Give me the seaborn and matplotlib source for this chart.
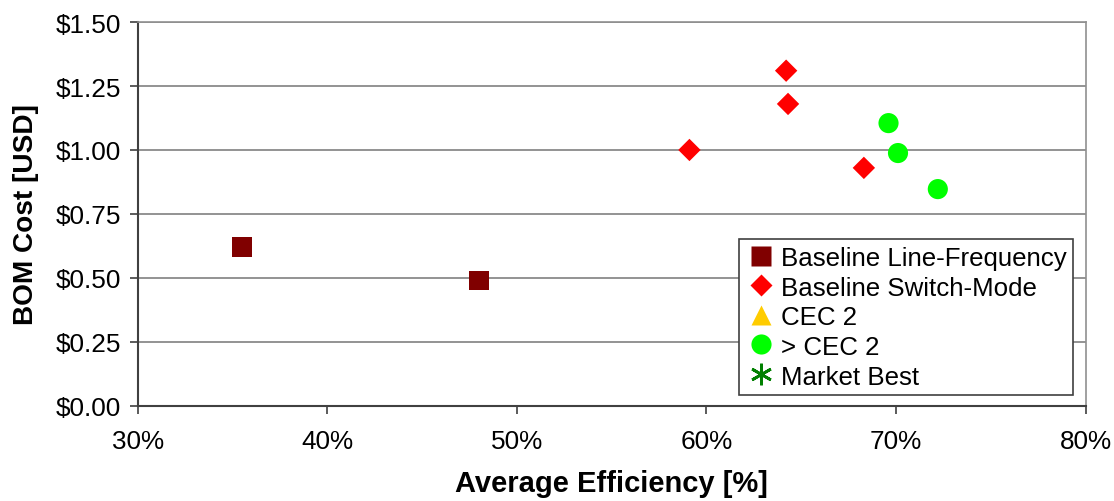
import matplotlib
matplotlib.use("Agg")
import matplotlib.pyplot as plt
from matplotlib.lines import Line2D
from matplotlib.ticker import FuncFormatter
import seaborn as sns
import pandas as pd

# ---- data ----
series_names = ["Baseline Line-Frequency", "Baseline Switch-Mode", "CEC 2", "> CEC 2", "Market Best"]
lf_eff = [35.5, 48.0]
lf_cost = [0.62, 0.49]
sm_eff = [59.1, 64.2, 64.3, 68.3]
sm_cost = [1.00, 1.31, 1.18, 0.93]
cec2_eff = []
cec2_cost = []
gt_eff = [69.6, 70.1, 72.2]
gt_cost = [1.105, 0.988, 0.847]
mb_eff = []
mb_cost = []
x_ticks = [30, 40, 50, 60, 70, 80]
y_ticks = [0.0, 0.25, 0.5, 0.75, 1.0, 1.25, 1.5]

sns.set_theme(style="white")
plt.rcParams["font.family"] = ["Liberation Sans", "DejaVu Sans"]
plt.rcParams["text.color"] = "black"
plt.rcParams["axes.labelcolor"] = "black"

fig = plt.figure(figsize=(11.14, 5.02), dpi=100)
ax = fig.add_axes([0.1236, 0.1898, 0.8510, 0.7642])

colors = ["#800000", "#FF0000", "#FFCC00", "#00FF00", "#008000"]
markers = ["s", "D", "^", "o", (6, 2, 0)]
sizes = [200, 130, 200, 210, 200]
xs = [lf_eff, sm_eff, cec2_eff, gt_eff, mb_eff]
ys = [lf_cost, sm_cost, cec2_cost, gt_cost, mb_cost]

for name, x, y, c, m, s in zip(series_names, xs, ys, colors, markers, sizes):
    if len(x) == 0:
        continue
    df = pd.DataFrame({"eff": x, "cost": y})
    sns.scatterplot(data=df, x="eff", y="cost", ax=ax, color=c, marker=m, s=s,
                    edgecolor="none", linewidth=0, legend=False, zorder=3)

ax.set_xlim(30, 80)
ax.set_ylim(0, 1.5)
ax.set_xticks(x_ticks)
ax.set_yticks(y_ticks)
ax.xaxis.set_major_formatter(FuncFormatter(lambda v, p: f"{v:.0f}%"))
ax.yaxis.set_major_formatter(FuncFormatter(lambda v, p: f"${v:.2f}"))

ax.grid(axis="y", color="#808080", linewidth=1.2, zorder=0)
ax.grid(axis="x", visible=False)
ax.set_axisbelow(True)

for side in ["left", "bottom"]:
    ax.spines[side].set_color("#404040")
    ax.spines[side].set_linewidth(1.5)
for side in ["top", "right"]:
    ax.spines[side].set_color("#909090")
    ax.spines[side].set_linewidth(1.2)

ax.tick_params(axis="both", which="major", direction="out", length=6, width=1.2,
               color="#404040", labelsize=18.8, labelcolor="black",
               bottom=True, left=True)
ax.tick_params(axis="x", pad=11)
ax.tick_params(axis="y", pad=6)

ax.set_xlabel("Average Efficiency [%]", fontsize=21, fontweight="bold", labelpad=11)
ax.set_ylabel("BOM Cost [USD]", fontsize=20.2, fontweight="bold", labelpad=12)

handles = []
for name, c, m in zip(series_names, colors, markers):
    if m == (6, 2, 0):
        h = Line2D([], [], linestyle="none", marker=m, color=c, markersize=15.5,
                   markeredgewidth=2.0)
    else:
        ms = {"s": 13.8, "D": 11, "^": 15, "o": 14.5}[m]
        h = Line2D([], [], linestyle="none", marker=m, color=c, markersize=ms,
                   markeredgecolor="none")
    handles.append(h)

leg = ax.legend(handles, series_names, loc="lower right", bbox_to_anchor=(0.987, 0.028),
                borderaxespad=0, fontsize=18.6, frameon=True, fancybox=False,
                edgecolor="#404040", framealpha=1, labelspacing=0.19,
                handletextpad=0.2, handlelength=1.2, borderpad=0.25,
                handleheight=0.9)
leg.get_frame().set_linewidth(1.2)

fig.savefig("out.png", dpi=100)
